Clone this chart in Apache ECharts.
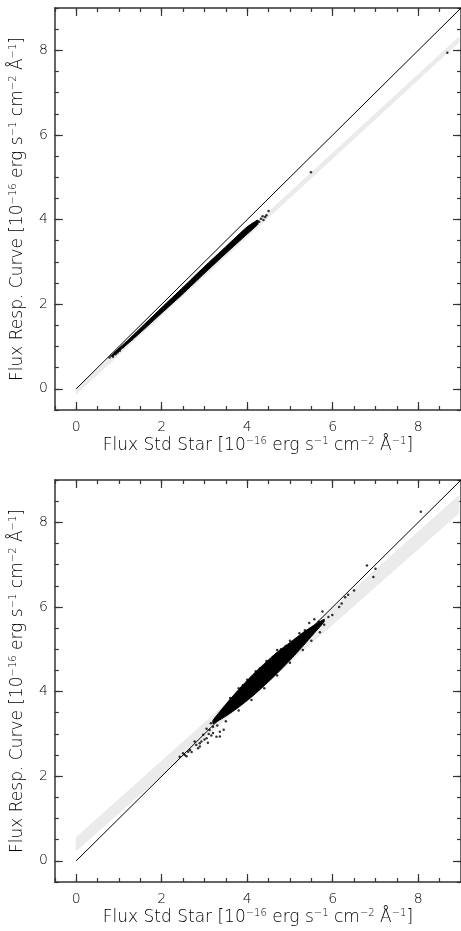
<!DOCTYPE html>
<html>
<head>
<meta charset="utf-8">
<script src="https://cdn.jsdelivr.net/npm/echarts@6/dist/echarts.min.js"></script>
<style>
  html, body { margin: 0; padding: 0; background: #fff; }
  #chart { width: 461px; height: 931px; }
</style>
</head>
<body>
<div id="chart"></div>
<script>
// tick labels
var majorTicks = [0, 2, 4, 6, 8];

// 1:1 line
var diagX = [0, 9];
var diagY = [0, 9];

// grey band, upper panel
var topBandX = [0, 8.95];
var topBandLo = [-0.12, 8.19];
var topBandHi = [0.0, 8.31];

// grey band, lower panel
var botBandX = [0, 8.95];
var botBandLo = [0.24, 8.22];
var botBandHi = [0.55, 8.63];

// dense part of the point cloud, upper panel
var topCoreX = [0.85, 1.2, 1.6, 2.0, 2.5, 3.0, 3.5, 4.0, 4.25];
var topCoreLo = [0.77, 1.06, 1.42, 1.79, 2.25, 2.73, 3.20, 3.66, 3.89];
var topCoreHi = [0.82, 1.14, 1.53, 1.92, 2.40, 2.89, 3.36, 3.83, 3.99];

// dense part of the point cloud, lower panel
var botCoreX = [3.2, 3.5, 3.8, 4.1, 4.4, 4.7, 5.0, 5.3, 5.55, 5.8];
var botCoreLo = [3.24, 3.42, 3.63, 3.87, 4.14, 4.43, 4.74, 5.07, 5.36, 5.65];
var botCoreHi = [3.32, 3.70, 4.05, 4.37, 4.66, 4.93, 5.16, 5.39, 5.56, 5.71];

// single points, upper panel
var topPoints = [
  [0.78, 0.74], [0.82, 0.78], [0.86, 0.76], [0.92, 0.82], [0.97, 0.86], [1.02, 0.90],
  [1.1, 0.99], [1.3, 1.17], [4.28, 3.95], [4.32, 4.02], [4.38, 3.99], [4.42, 4.06],
  [4.45, 4.10], [4.5, 4.2], [4.36, 4.08], [5.49, 5.12], [8.68, 7.94]
];

// single points, lower panel
var botPoints = [
  [2.42, 2.46], [2.5, 2.54], [2.54, 2.50], [2.58, 2.47], [2.62, 2.58], [2.66, 2.62],
  [2.70, 2.57], [2.77, 2.82], [2.81, 2.74], [2.85, 2.66], [2.89, 2.70], [2.89, 2.78],
  [2.93, 2.82], [2.97, 2.98], [3.0, 2.87], [3.05, 2.90], [3.08, 2.79], [3.12, 3.09],
  [3.16, 2.96], [3.2, 3.17], [3.2, 3.02], [3.28, 2.93], [3.36, 3.05], [3.36, 2.94],
  [3.25, 3.35], [3.15, 3.25], [3.05, 3.12], [3.45, 3.10], [3.1, 3.0], [3.3, 3.2],
  [3.6, 3.85], [3.8, 4.08], [3.9, 4.15], [4.0, 4.28], [4.2, 4.48], [4.3, 4.55],
  [4.45, 4.72], [4.6, 4.82], [4.7, 4.98], [4.79, 5.0], [4.9, 5.08], [5.0, 5.2],
  [5.06, 5.16], [5.22, 5.38], [5.35, 5.45], [5.45, 5.62], [5.57, 5.71], [5.76, 5.89],
  [3.5, 3.3], [3.8, 3.55], [4.1, 3.8], [4.4, 4.08], [4.7, 4.38], [5.0, 4.68],
  [5.3, 4.98], [5.5, 5.2], [5.67, 5.65], [5.7, 5.4], [5.8, 5.58], [5.9, 5.76],
  [5.99, 5.81], [6.15, 6.0], [6.21, 6.08], [6.29, 6.23], [6.36, 6.29], [6.5, 6.39],
  [6.8, 6.98], [7.0, 6.9], [6.95, 6.71], [8.06, 8.25]
];

var chart = echarts.init(document.getElementById('chart'));

var FONT = '"DejaVu Sans", "Liberation Sans", sans-serif';
var INK = '#000';

var xName = 'Flux Std Star [10{s|−16} erg s{s|−1} cm{s|−2} Å{s|−1}]';
var yName = 'Flux Resp. Curve [10{s|−16} erg s{s|−1} cm{s|−2} Å{s|−1}]';

var nameStyle = {
  fontSize: 17,
  fontFamily: FONT,
  fontWeight: 200,
  color: INK,
  lineHeight: 20,
  rich: {
    s: { fontSize: 10, fontFamily: FONT, fontWeight: 200, color: INK, verticalAlign: 'top', lineHeight: 13 }
  }
};

var labelStyle = { fontSize: 14, fontFamily: FONT, fontWeight: 200, color: INK };

// one panel needs a main axis and a minor-tick axis on each side
function xAxes(gi) {
  var base = { type: 'value', gridIndex: gi, min: -0.5, max: 9, splitLine: { show: false } };
  return [
    Object.assign({}, base, {
      position: 'bottom',
      name: xName,
      nameLocation: 'middle',
      nameGap: 26,
      nameTextStyle: nameStyle,
      axisLine: { show: true, onZero: false, lineStyle: { color: '#333', width: 1.5 } },
      axisTick: { show: true, inside: true, length: 8, customValues: majorTicks, lineStyle: { color: '#333', width: 1.2 } },
      axisLabel: Object.assign({ show: true, customValues: majorTicks, margin: 10 }, labelStyle)
    }),
    Object.assign({}, base, {
      position: 'bottom',
      interval: 0.5,
      axisLine: { show: false, onZero: false },
      axisTick: { show: true, inside: true, length: 4, lineStyle: { color: '#333', width: 1.2 } },
      axisLabel: { show: false }
    }),
    Object.assign({}, base, {
      position: 'top',
      axisLine: { show: true, onZero: false, lineStyle: { color: '#333', width: 1.5 } },
      axisTick: { show: true, inside: true, length: 8, customValues: majorTicks, lineStyle: { color: '#333', width: 1.2 } },
      axisLabel: { show: false }
    }),
    Object.assign({}, base, {
      position: 'top',
      interval: 0.5,
      axisLine: { show: false, onZero: false },
      axisTick: { show: true, inside: true, length: 4, lineStyle: { color: '#333', width: 1.2 } },
      axisLabel: { show: false }
    })
  ];
}

function yAxes(gi) {
  var base = { type: 'value', gridIndex: gi, min: -0.5, max: 9, splitLine: { show: false } };
  return [
    Object.assign({}, base, {
      position: 'left',
      name: yName,
      nameLocation: 'middle',
      nameGap: 18,
      nameRotate: 90,
      nameTextStyle: nameStyle,
      axisLine: { show: true, onZero: false, lineStyle: { color: '#333', width: 1.5 } },
      axisTick: { show: true, inside: true, length: 8, customValues: majorTicks, lineStyle: { color: '#333', width: 1.2 } },
      axisLabel: Object.assign({ show: true, customValues: majorTicks, margin: 7 }, labelStyle)
    }),
    Object.assign({}, base, {
      position: 'left',
      interval: 0.5,
      axisLine: { show: false, onZero: false },
      axisTick: { show: true, inside: true, length: 4, lineStyle: { color: '#333', width: 1.2 } },
      axisLabel: { show: false }
    }),
    Object.assign({}, base, {
      position: 'right',
      axisLine: { show: true, onZero: false, lineStyle: { color: '#333', width: 1.5 } },
      axisTick: { show: true, inside: true, length: 8, customValues: majorTicks, lineStyle: { color: '#333', width: 1.2 } },
      axisLabel: { show: false }
    }),
    Object.assign({}, base, {
      position: 'right',
      interval: 0.5,
      axisLine: { show: false, onZero: false },
      axisTick: { show: true, inside: true, length: 4, lineStyle: { color: '#333', width: 1.2 } },
      axisLabel: { show: false }
    })
  ];
}

// filled area between two edges, drawn through the axis scales
function areaSeries(axisIdx, xs, lo, hi, color, z, smooth) {
  return {
    type: 'custom',
    xAxisIndex: axisIdx,
    yAxisIndex: axisIdx,
    silent: true,
    clip: true,
    z: z,
    data: [[xs[0], lo[0]]],
    renderItem: function (params, api) {
      var pts = [], i;
      for (i = 0; i < xs.length; i++) {
        pts.push(api.coord([xs[i], hi[i]]));
      }
      for (i = xs.length - 1; i >= 0; i--) {
        pts.push(api.coord([xs[i], lo[i]]));
      }
      return { type: 'polygon', shape: { points: pts, smooth: smooth }, style: { fill: color, stroke: color, lineWidth: 1 } };
    }
  };
}

function pairs(xs, ys) {
  return xs.map(function (x, i) { return [x, ys[i]]; });
}

function panelSeries(axisIdx, bandX, bandLo, bandHi, coreX, coreLo, coreHi, points) {
  return [
    areaSeries(axisIdx, bandX, bandLo, bandHi, '#ebebeb', 1, 0),
    {
      type: 'line',
      xAxisIndex: axisIdx,
      yAxisIndex: axisIdx,
      data: pairs(diagX, diagY),
      symbol: 'none',
      silent: true,
      z: 2,
      lineStyle: { color: '#000', width: 1 }
    },
    areaSeries(axisIdx, coreX, coreLo, coreHi, '#000', 3, 0.15),
    {
      type: 'scatter',
      xAxisIndex: axisIdx,
      yAxisIndex: axisIdx,
      data: points,
      symbol: 'circle',
      symbolSize: 2.5,
      silent: true,
      z: 4,
      itemStyle: { color: '#000' }
    }
  ];
}

var option = {
  backgroundColor: '#fff',
  animation: false,
  grid: [
    { left: 54, top: 8, width: 408, height: 402 },
    { left: 54, top: 480, width: 408, height: 402 }
  ],
  xAxis: xAxes(0).concat(xAxes(1)),
  yAxis: yAxes(0).concat(yAxes(1)),
  series: panelSeries(0, topBandX, topBandLo, topBandHi, topCoreX, topCoreLo, topCoreHi, topPoints)
    .concat(panelSeries(4, botBandX, botBandLo, botBandHi, botCoreX, botCoreLo, botCoreHi, botPoints))
};

chart.setOption(option);
</script>
</body>
</html>
